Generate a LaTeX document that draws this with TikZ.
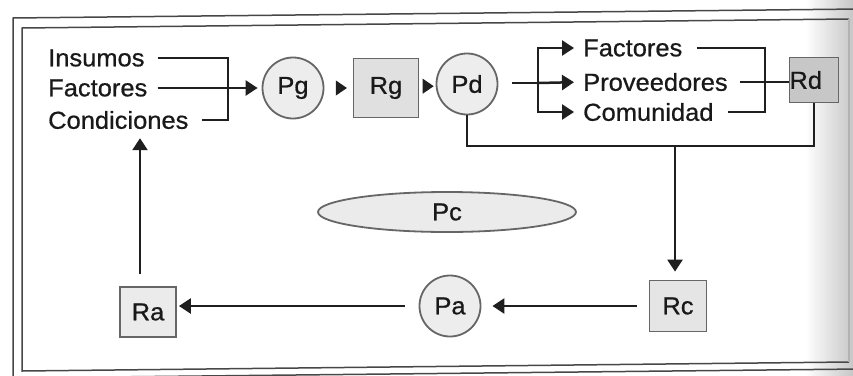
\documentclass[tikz,border=0pt]{standalone}
\usepackage{fontspec}
\setmainfont{Liberation Sans}[FakeStretch=1.04,FakeBold=0.7]
\usetikzlibrary{arrows.meta,shapes.geometric,calc}
\begin{document}
\begin{tikzpicture}[x=1pt,y=-1pt,
 every node/.style={font=\fontsize{24.5}{28}\selectfont, text=black!90},
 conn/.style={line width=2.5pt, draw=black!88},
 arr/.style={conn, -{Triangle[length=12pt,width=15pt]}},
 txt/.style={inner sep=0pt},
 tri/.style={isosceles triangle, fill=black!88, inner sep=0pt, minimum height=11pt, minimum width=15pt, isosceles triangle stretches},
 proc/.style={circle, draw=black!60, line width=1.8pt, fill=black!7, minimum size=61pt, inner sep=0pt},
 res/.style={rectangle, draw=black!60, line width=1.8pt, fill=black!12, inner sep=0pt},
 frame/.style={draw=black!72, line width=1.5pt},
]
\useasboundingbox (0,0) rectangle (853,375);
\clip (0,0) rectangle (853,375);
\shade[left color=white, right color=black!22] (805,0) rectangle (853,375);
% frame
\draw[frame] (13,380) -- (13,18) -- (860,9);
\draw[frame] (13,378) -- (860,369);
\draw[frame] (849,19) -- (22,28) -- (22,371) -- (849,362);
\draw[frame, draw=black!30] (849,19) -- (849,362);
% left inputs
\node[txt, anchor=west] (ins) at (48,58) {Insumos};
\node[txt, anchor=west] (fac) at (48,88) {Factores};
\node[txt, anchor=west] (con) at (48,120) {Condiciones};
% top row
\node[proc] (Pg) at (293,88) {Pg};
\node[res, minimum width=65pt, minimum height=59pt] (Rg) at (386,88) {Rg};
\node[proc] (Pd) at (467,84) {Pd};
\node[txt, anchor=west] (rf) at (583,48) {Factores};
\node[txt, anchor=west] (rp) at (583,82) {Proveedores};
\node[txt, anchor=west] (rc) at (583,112) {Comunidad};
\node[res, fill=black!22, minimum width=49pt, minimum height=45pt, text width=49pt, align=left] (Rd) at (814,80) {Rd};
% bottom row
\node[res, fill=black!10, minimum width=57pt, minimum height=51pt] (Rc) at (678,306) {Rc};
\node[proc] (Pa) at (450,306) {Pa};
\node[res, fill=black!8, minimum width=56pt, minimum height=50pt] (Ra) at (148,312) {Ra};
\node[ellipse, draw=black!60, line width=1.8pt, fill=black!8, minimum width=258pt, minimum height=40pt, inner sep=0pt] (Pc) at (447,212) {Pc};
% connectors
\coordinate (bl) at (228,88);
\draw[conn] ([xshift=13pt]ins.east) -| (bl) |- ([xshift=13pt]con.east);
\draw[arr, shorten >=4pt] ([xshift=10pt]fac.east) -- (fac.east -| Pg.west);
\path (Pg.east) -- node[tri, pos=0.55] {} (Rg.west);
\path (Rg.east) -- node[tri, pos=0.45] {} (Pd.west);
\coordinate (bd) at (538,83);
\draw[conn] ([xshift=14pt]Pd.east |- bd) -- (bd);
\draw[arr, shorten >=9pt] (bd) |- (rf.west);
\draw[arr, shorten >=9pt] (bd) -- (rp.west);
\draw[arr, shorten >=9pt] (bd) |- (rc.west);
\coordinate (br) at (765,83);
\draw[conn] ([xshift=14pt]rf.east) -| (br) |- ([xshift=14pt]rc.east);
\draw[conn] ([xshift=12pt]rp.east) -- (rp.east -| Rd.west);
\coordinate (jn) at (675,146);
\draw[conn] (Pd.south) |- (jn) -| (Rd.south);
\draw[arr, shorten >=8pt] (jn) -- (jn |- Rc.north);
\draw[arr, shorten <=12pt, shorten >=11pt] (Rc.west) -- (Rc.west -| Pa.east);
\draw[arr, shorten <=14pt, shorten >=2pt] (Pa.west) -- (Pa.west -| Ra.east);
\draw[arr, shorten <=12pt, shorten >=9pt] ([xshift=-8pt]Ra.north) -- ([xshift=-8pt]Ra.north |- con.south);
\end{tikzpicture}
\end{document}
